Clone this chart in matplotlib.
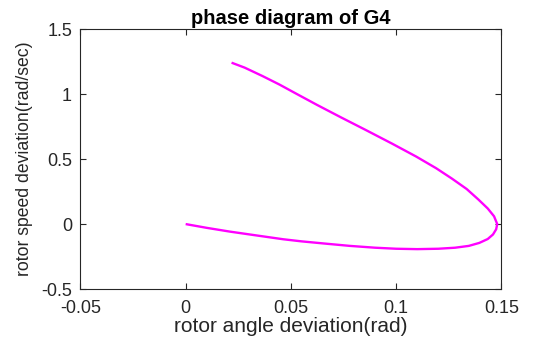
import matplotlib
matplotlib.use("Agg")
import matplotlib.pyplot as plt

# Phase trajectory of generator G4: rotor angle deviation vs rotor speed deviation
angle_dev = [0.0, 0.010, 0.021, 0.033, 0.0464, 0.055, 0.066, 0.078,
             0.090, 0.100, 0.110, 0.120, 0.128, 0.1345, 0.1395, 0.1435,
             0.146, 0.1475, 0.148, 0.1465, 0.1435, 0.139, 0.1335, 0.1265,
             0.119, 0.1095, 0.098, 0.0855, 0.074, 0.0625, 0.053, 0.0445,
             0.0365, 0.028, 0.0218]
speed_dev = [0.0, -0.029, -0.058, -0.086, -0.117, -0.133, -0.150, -0.168,
             -0.182, -0.190, -0.193, -0.190, -0.182, -0.168, -0.145, -0.115,
             -0.080, -0.040, 0.0, 0.060, 0.120, 0.190, 0.270, 0.350,
             0.430, 0.520, 0.620, 0.725, 0.820, 0.917, 1.000, 1.075,
             1.140, 1.205, 1.243]

x_ticks = [-0.05, 0, 0.05, 0.1, 0.15]
x_tick_labels = ["-0.05", "0", "0.05", "0.1", "0.15"]
y_ticks = [-0.5, 0, 0.5, 1, 1.5]
y_tick_labels = ["-0.5", "0", "0.5", "1", "1.5"]

plt.rcParams["font.family"] = ["Liberation Sans", "DejaVu Sans"]
dark = (0.15, 0.15, 0.15)

fig = plt.figure(figsize=(5.36, 3.40), dpi=100)
ax = fig.add_axes([0.150, 0.150, 0.7855, 0.7638])

ax.plot(angle_dev, speed_dev, color=(1, 0, 1), linewidth=1.7,
        solid_capstyle="butt", solid_joinstyle="round")

ax.set_xlim(-0.05, 0.15)
ax.set_ylim(-0.5, 1.5)
ax.set_xticks(x_ticks)
ax.set_xticklabels(x_tick_labels)
ax.set_yticks(y_ticks)
ax.set_yticklabels(y_tick_labels)

ax.tick_params(direction="in", length=4, width=0.8, colors=dark,
               labelsize=13, top=True, right=True)
ax.tick_params(axis="x", pad=8)
ax.tick_params(axis="y", pad=6)
for side in ax.spines.values():
    side.set_color(dark)
    side.set_linewidth(0.8)

ax.set_xlabel("rotor angle deviation(rad)", fontsize=15, color=dark, labelpad=0)
ax.set_ylabel("rotor speed deviation(rad/sec)", fontsize=12.7, color=dark, labelpad=6)
ax.set_title("phase diagram of G4", fontsize=14.5, fontweight="bold",
             color="black", pad=4)

fig.savefig("out.png", dpi=100, facecolor="white")
